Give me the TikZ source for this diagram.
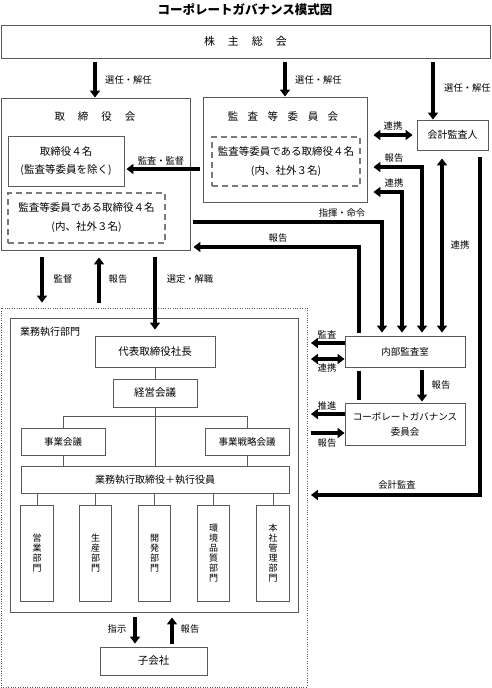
\documentclass[tikz,border=0pt]{standalone}
\usepackage{fontspec}
\setmainfont{Noto Sans CJK JP}
\usetikzlibrary{arrows.meta,calc}
\definecolor{boxgray}{HTML}{5A5A5A}
\definecolor{dashgray}{HTML}{7A7A7A}
\begin{document}
\begin{tikzpicture}[x=1pt,y=-1pt,
  box/.style={draw=boxgray,line width=0.9pt,fill=white,inner sep=0pt,align=center,font=\fontsize{10}{12}\selectfont},
  dbox/.style={draw=dashgray,line width=1.1pt,dash pattern=on 6pt off 4pt,inner sep=0pt,align=center,font=\fontsize{10.5}{19}\selectfont},
  lbl/.style={inner sep=0pt,font=\fontsize{9.3}{10}\selectfont},
  ttl/.style={inner sep=0pt,font=\fontsize{10.5}{12}\selectfont},
  dept/.style={box,minimum width=32.5pt,minimum height=96pt,font=\fontsize{9}{10}\selectfont},
  tline/.style={draw=boxgray,line width=0.9pt},
  big/.style={line width=3.6pt,line cap=butt},
  arr/.style={big,-{Triangle[width=10pt,length=7pt]}},
  dbl/.style={big,{Triangle[width=10pt,length=7pt]}-{Triangle[width=10pt,length=7pt]}}
]
\useasboundingbox (0,0) rectangle (491,688);

% title
\node[inner sep=0pt,font=\fontsize{12.5}{14}\selectfont\bfseries] (title) at (245,10) {コーポレートガバナンス模式図};

% shareholders meeting
\node[box,minimum width=489pt,minimum height=33pt,font=\fontsize{11}{12}\selectfont] (gm) at (245.5,41.5) {株\hspace{13pt}主\hspace{13pt}総\hspace{13pt}会};

% board of directors
\node[box,minimum width=189pt,minimum height=152pt] (board) at (95.5,174) {};
\node[ttl] (boardt) at (95,117) {取\hspace{13pt}締\hspace{13pt}役\hspace{13pt}会};
\node[box,minimum width=116pt,minimum height=50pt,font=\fontsize{10.5}{18}\selectfont] (dir4) at (66,161) {取締役４名\\(監査等委員を除く)};
\node[dbox,minimum width=157pt,minimum height=50pt] (dirac) at (86.5,218) {監査等委員である取締役４名\\(内、社外３名)};

% audit & supervisory committee
\node[box,minimum width=164pt,minimum height=105pt] (ac) at (285,149.5) {};
\node[ttl] (act) at (283,116) {監\hspace{9.5pt}査\hspace{9.5pt}等\hspace{9.5pt}委\hspace{9.5pt}員\hspace{9.5pt}会};
\node[dbox,minimum width=148pt,minimum height=49pt] (acin) at (286,161.5) {監査等委員である取締役４名\\(内、社外３名)};

% accounting auditor
\node[box,minimum width=71pt,minimum height=30pt] (auditor) at (452.5,135) {会計監査人};

% internal audit & CG committee
\node[box,minimum width=120pt,minimum height=31pt,font=\fontsize{9.5}{12}\selectfont] (ia) at (405,351.5) {内部監査室};
\node[box,minimum width=120pt,minimum height=42pt,font=\fontsize{9.5}{15}\selectfont] (cg) at (405,424) {コーポレートガバナンス\\委員会};

% execution division
\node[draw=boxgray,line width=0.8pt,dash pattern=on 1pt off 1.4pt,minimum width=306pt,minimum height=379pt,inner sep=0pt] (outer) at (154,497.5) {};
\node[box,minimum width=288pt,minimum height=294pt] (exec) at (154,465) {};
\node[lbl,anchor=west,font=\fontsize{10}{12}\selectfont] (exect) at (20,332) {業務執行部門};
\node[box,minimum width=120pt,minimum height=31pt,font=\fontsize{10.5}{12}\selectfont] (pres) at (155,351.5) {代表取締役社長};
\node[box,minimum width=84pt,minimum height=28pt,font=\fontsize{10.5}{12}\selectfont] (mgmt) at (155,393) {経営会議};
\node[box,minimum width=84pt,minimum height=27pt,font=\fontsize{9.5}{12}\selectfont] (biz) at (63,441.5) {事業会議};
\node[box,minimum width=84pt,minimum height=27pt,font=\fontsize{9.5}{12}\selectfont] (strat) at (247,441.5) {事業戦略会議};
\node[box,minimum width=268pt,minimum height=27pt] (execdir) at (155,479.5) {業務執行取締役＋執行役員};
\node[dept] (d1) at (37,553) {営\\業\\部\\門};
\node[dept] (d2) at (95.5,553) {生\\産\\部\\門};
\node[dept] (d3) at (154.5,553) {開\\発\\部\\門};
\node[dept] (d4) at (213.5,553) {環\\境\\品\\質\\部\\門};
\node[dept] (d5) at (273,553) {本\\社\\管\\理\\部\\門};
\node[box,minimum width=107pt,minimum height=28pt,font=\fontsize{10.5}{12}\selectfont] (sub) at (153.5,661) {子会社};

% tree lines
\draw[tline] (pres.south) -- (mgmt.north);
\draw[tline] (mgmt.south) -- (execdir.north);
\draw[tline] (biz.north) -- (biz.north |- 0,416) -- (strat.north |- 0,416) -- (strat.north);
\draw[tline] (biz.south) -- (execdir.north -| biz.south);
\draw[tline] (strat.south) -- (execdir.north -| strat.south);
\foreach \d in {d1,d2,d3,d4,d5} {\draw[tline] (\d.north) -- (execdir.south -| \d.north);}

% shareholders -> bodies
\draw[arr,shorten <=4pt] (gm.south -| 95,0) -- (board.north -| 95,0);
\node[lbl,anchor=west] at (105,80) {選任・解任};
\draw[arr,shorten <=4pt] (gm.south -| 285,0) -- (ac.north -| 285,0);
\node[lbl,anchor=west] at (295,80) {選任・解任};
\draw[arr,shorten <=4pt] (gm.south -| 433,0) -- (auditor.north -| 433,0);
\node[lbl,anchor=west] at (444,88) {選任・解任};

% audit committee -> directors
\draw[arr,shorten <=3pt,shorten >=2pt] (ac.west |- 0,169) -- (dir4.east |- 0,169);
\node[lbl] at (161,161) {監査・監督};

% audit committee <-> auditor
\draw[dbl,shorten <=6pt,shorten >=4pt] (ac.east |- 0,135) -- (auditor.west |- 0,135);
\node[lbl] at (393,126) {連携};

% internal audit <-> audit committee
\draw[dbl,shorten <=3pt,shorten >=6pt] (ia.north -| 422,0) -- (422,167) -- (ac.east |- 0,167);
\node[lbl] at (394,158) {報告};
\draw[dbl,shorten <=3pt,shorten >=6pt] (ia.north -| 402,0) -- (402,192) -- (ac.east |- 0,192);
\node[lbl] at (394,183) {連携};

% board -> internal audit
\draw[arr,shorten <=3pt,shorten >=3pt] (board.east |- 0,222) -- (382,222) -- (ia.north -| 382,0);
\node[lbl] at (342,213) {指揮・命令};

% CG committee -> board
\draw[big,shorten <=3pt,shorten >=4pt] (cg.north -| 359,0) -- (ia.south -| 359,0);
\draw[arr,shorten <=3pt,shorten >=3pt] (ia.north -| 359,0) -- (359,247) -- (board.east |- 0,247);
\node[lbl] at (278,238) {報告};

% auditor <-> internal audit
\draw[dbl,shorten <=8pt,shorten >=3pt] (auditor.south -| 442,0) -- (ia.north -| 442,0);
\node[lbl] at (460,245) {連携};

% auditor -> execution
\draw[arr,shorten <=7pt,shorten >=3.5pt] (auditor.south -| 480,0) -- (480,495) -- (outer.east |- 0,495);
\node[lbl] at (397,485) {会計監査};

% internal audit / CG <-> execution
\draw[arr,shorten >=3.5pt] (ia.west |- 0,343) -- (outer.east |- 0,343);
\node[lbl] at (327,335) {監査};
\draw[dbl,shorten >=3.5pt] (ia.west |- 0,359) -- (outer.east |- 0,359);
\node[lbl] at (327,368) {連携};
\draw[arr,shorten <=3pt,shorten >=1pt] (ia.south -| 422,0) -- (cg.north -| 422,0);
\node[lbl] at (441,385) {報告};
\draw[arr,shorten >=3.5pt] (cg.west |- 0,414) -- (outer.east |- 0,414);
\node[lbl] at (327,406) {推進};
\draw[arr,shorten <=3.5pt] (outer.east |- 0,433) -- (cg.west |- 0,433);
\node[lbl] at (327,443) {報告};

% board <-> execution
\draw[arr,shorten <=7pt,shorten >=5pt] (board.south -| 42,0) -- (outer.north -| 42,0);
\node[lbl] at (63,279) {監督};
\draw[arr,shorten <=5pt,shorten >=7pt] (outer.north -| 99,0) -- (board.south -| 99,0);
\node[lbl] at (118,279) {報告};
\draw[arr,shorten <=7pt,shorten >=6pt] (board.south -| 155,0) -- (pres.north -| 155,0);
\node[lbl] at (190,279) {選定・解職};

% execution <-> subsidiaries
\draw[arr,shorten <=5pt,shorten >=3pt] (exec.south -| 135,0) -- (sub.north -| 135,0);
\node[lbl] at (117,629) {指示};
\draw[arr,shorten <=3pt,shorten >=5pt] (sub.north -| 172,0) -- (exec.south -| 172,0);
\node[lbl] at (190,629) {報告};
\end{tikzpicture}
\end{document}
